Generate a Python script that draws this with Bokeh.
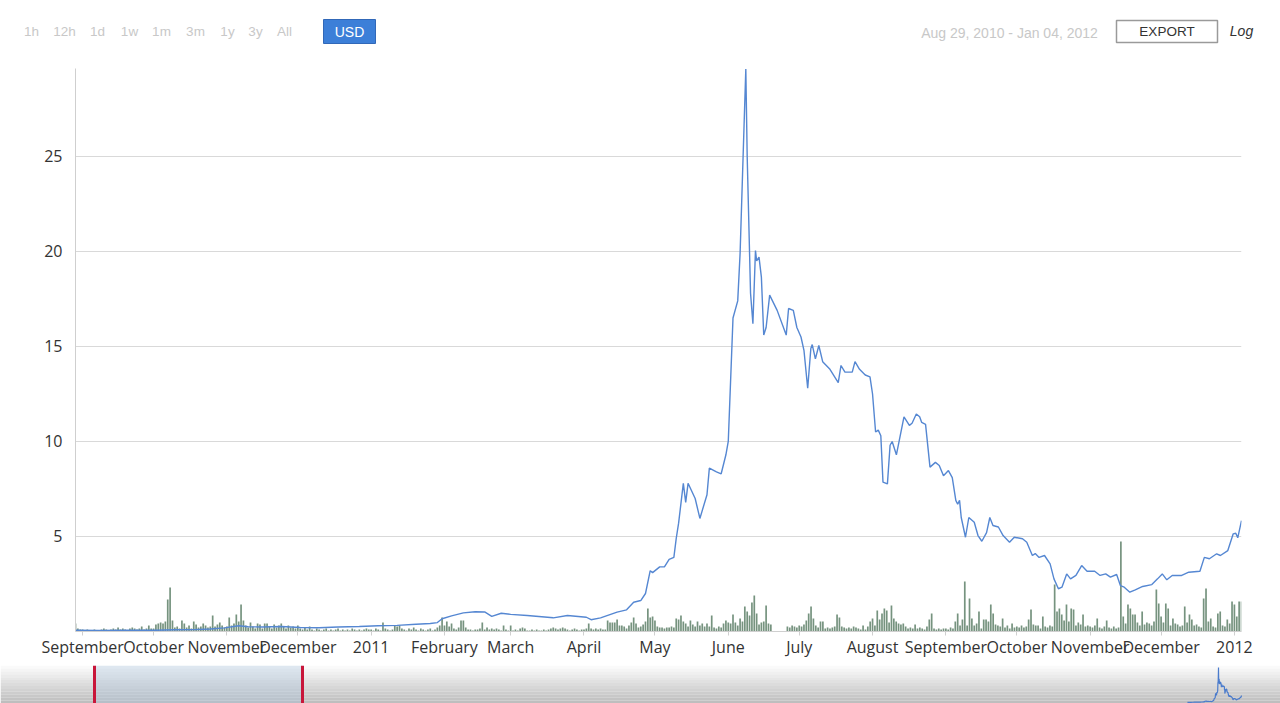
import pandas as pd
from bokeh.plotting import figure
from bokeh.models import Range1d, FixedTicker
from bokeh.layouts import column
from bokeh.core.properties import value
from bokeh.embed import file_html
from bokeh.resources import INLINE

# ---------------- data ----------------
price_time = [
    "2010-08-29", "2010-09-08", "2010-09-20", "2010-10-02", "2010-10-10", "2010-10-18", "2010-10-25", "2010-10-31",
    "2010-11-06", "2010-11-10", "2010-11-16", "2010-11-24", "2010-12-02", "2010-12-10", "2010-12-18", "2010-12-27",
    "2011-01-04", "2011-01-12", "2011-01-20", "2011-01-26", "2011-01-29", "2011-01-31", "2011-02-04", "2011-02-09",
    "2011-02-14", "2011-02-18", "2011-02-21", "2011-02-25", "2011-03-01", "2011-03-08", "2011-03-19", "2011-03-25",
    "2011-04-02", "2011-04-04", "2011-04-08", "2011-04-15", "2011-04-19", "2011-04-22", "2011-04-25", "2011-04-27",
    "2011-04-29", "2011-04-30", "2011-05-03", "2011-05-05", "2011-05-07", "2011-05-09", "2011-05-10", "2011-05-11",
    "2011-05-13", "2011-05-14", "2011-05-15", "2011-05-18", "2011-05-20", "2011-05-23", "2011-05-24", "2011-05-27",
    "2011-05-29", "2011-05-31", "2011-06-01", "2011-06-03", "2011-06-05", "2011-06-06", "2011-06-08T10:00",
    "2011-06-09", "2011-06-10T10:00", "2011-06-11T10:00", "2011-06-12T12:00", "2011-06-13", "2011-06-14", "2011-06-15",
    "2011-06-16", "2011-06-17", "2011-06-18T12:00", "2011-06-21T16:00", "2011-06-25T12:00", "2011-06-26T12:00",
    "2011-06-28T12:00", "2011-06-30", "2011-07-01T18:00", "2011-07-03", "2011-07-04T14:00", "2011-07-05T22:00",
    "2011-07-06T12:00", "2011-07-07T20:00", "2011-07-09T07:00", "2011-07-10T22:00", "2011-07-14", "2011-07-17T12:00",
    "2011-07-18T16:00", "2011-07-20T08:00", "2011-07-23T10:00", "2011-07-24T14:00", "2011-07-26T12:00",
    "2011-07-28T22:00", "2011-07-30T22:00", "2011-08-01", "2011-08-02T07:00", "2011-08-03T10:00", "2011-08-04T12:00",
    "2011-08-05T10:00", "2011-08-07T07:00", "2011-08-08T10:00", "2011-08-09T07:00", "2011-08-11T02:00",
    "2011-08-14T07:00", "2011-08-16T14:00", "2011-08-17T17:00", "2011-08-19T12:00", "2011-08-20T22:00",
    "2011-08-21T19:00", "2011-08-23T10:00", "2011-08-25T07:00", "2011-08-27T14:00", "2011-08-29T05:00", "2011-08-31",
    "2011-09-02T02:00", "2011-09-03T17:00", "2011-09-05T05:00", "2011-09-06", "2011-09-06T19:00", "2011-09-07T12:00",
    "2011-09-09T07:00", "2011-09-10T17:00", "2011-09-13", "2011-09-14T14:00", "2011-09-16T05:00", "2011-09-18T05:00",
    "2011-09-19T14:00", "2011-09-20T22:00", "2011-09-23T05:00", "2011-09-25T05:00", "2011-09-27T22:00",
    "2011-09-29T22:00", "2011-10-03T10:00", "2011-10-05T05:00", "2011-10-07T14:00", "2011-10-08T19:00",
    "2011-10-10T10:00", "2011-10-12T17:00", "2011-10-15T02:00", "2011-10-16T17:00", "2011-10-18T14:00",
    "2011-10-20T02:00", "2011-10-22T02:00", "2011-10-23T17:00", "2011-10-26", "2011-10-28T10:00", "2011-10-30T17:00",
    "2011-11-02T22:00", "2011-11-05T05:00", "2011-11-07T14:00", "2011-11-09T14:00", "2011-11-12T05:00",
    "2011-11-13T19:00", "2011-11-15T10:00", "2011-11-17T19:00", "2011-11-20T02:00", "2011-11-23T05:00",
    "2011-11-27T02:00", "2011-11-29T12:00", "2011-12-01T12:00", "2011-12-03T10:00", "2011-12-05T17:00",
    "2011-12-09T17:00", "2011-12-12T17:00", "2011-12-17T10:00", "2011-12-19T07:00", "2011-12-21T10:00",
    "2011-12-24T12:00", "2011-12-26T02:00", "2011-12-29T05:00", "2011-12-31T12:00", "2012-01-01T14:00",
    "2012-01-02T10:00", "2012-01-04",
]
price_usd = [
    0.064, 0.060, 0.062, 0.062, 0.095, 0.100, 0.130, 0.190,
    0.30, 0.25, 0.24, 0.26, 0.21, 0.20, 0.24, 0.26,
    0.30, 0.32, 0.38, 0.42, 0.47, 0.67, 0.82, 0.98,
    1.04, 1.03, 0.80, 0.96, 0.90, 0.84, 0.72, 0.84,
    0.75, 0.62, 0.72, 1.02, 1.14, 1.54, 1.63, 2.00,
    3.2, 3.1, 3.4, 3.4, 3.8, 3.9, 4.9, 5.7,
    7.8, 6.8, 7.8, 7.0, 5.95, 7.2, 8.6, 8.4,
    8.3, 9.3, 10.0, 16.5, 17.4, 19.9, 29.6,
    25.0, 17.8, 16.2, 20.05, 19.5, 19.7, 18.65,
    15.6, 16.0, 17.7, 16.9, 15.6, 17.0,
    16.9, 16.0, 15.5, 14.8, 12.8, 14.9,
    15.1, 14.35, 15.05, 14.2, 13.8, 13.1,
    14.0, 13.65, 13.65, 14.2, 13.8,
    13.5, 13.4, 12.5, 10.5, 10.6, 10.3,
    7.86, 7.77, 9.8, 10.0, 9.3,
    11.3, 10.85, 10.96, 11.45, 11.3,
    11.0, 10.9, 8.65, 8.9, 8.74, 8.2,
    8.47, 8.1, 6.9, 6.7, 6.9, 6.0,
    4.96, 6.0, 5.75, 5.05, 4.75, 5.2,
    6.0, 5.58, 5.5, 5.05, 4.7,
    4.96, 4.88, 4.7, 4.0, 4.1,
    3.9, 4.0, 3.56, 2.77, 2.25,
    2.33, 3.03, 2.77, 2.95, 3.47, 3.17,
    3.17, 2.95, 3.03, 2.86, 3.0,
    2.42, 2.33, 2.07, 2.19, 2.37,
    2.47, 2.77, 3.03, 2.72, 2.95,
    2.95, 3.12, 3.17, 3.9, 3.83,
    4.09, 4.0, 4.26, 5.14, 5.17,
    4.93, 5.84,
]

# daily traded volume (thousand BTC), one list per month
vol_2010_08 = [8, 3, 2]
vol_2010_09 = [2, 1, 2, 1, 1, 2, 1, 1, 2, 3, 2, 1, 2, 3, 2, 4, 2, 3, 2, 1, 3, 4, 3, 2, 3, 5, 2, 3, 6, 3]
vol_2010_10 = [3, 7, 8, 9, 8, 10, 32, 44, 11, 4, 5, 3, 11, 8, 4, 6, 3, 10, 7, 4, 5, 8, 6, 4, 5, 16, 5, 7, 9, 6, 4]
vol_2010_11 = [5, 14, 6, 8, 17, 10, 27, 11, 6, 4, 9, 5, 3, 8, 7, 3, 8, 8, 5, 3, 7, 4, 6, 8, 5, 3, 6, 4, 5, 3]
vol_2010_12 = [6, 3, 2, 4, 2, 5, 2, 1, 3, 2, 1, 2, 3, 1, 2, 1, 2, 3, 1, 2, 1, 2, 1, 3, 2, 1, 2, 1, 2, 3, 2]
vol_2011_01 = [2, 1, 3, 2, 1, 9, 3, 2, 1, 2, 6, 5, 6, 3, 2, 1, 3, 2, 4, 2, 1, 3, 2, 1, 2, 3, 1, 2, 4, 6, 14]
vol_2011_02 = [6, 10, 5, 8, 3, 2, 4, 11, 11, 4, 2, 2, 1, 2, 2, 3, 9, 2, 4, 2, 3, 2, 3, 2, 1, 6, 2, 1]
vol_2011_03 = [6, 1, 2, 1, 3, 4, 3, 1, 1, 2, 1, 2, 1, 1, 2, 1, 2, 3, 4, 3, 2, 3, 4, 3, 2, 1, 2, 3, 2, 1, 2]
vol_2011_04 = [2, 3, 8, 3, 2, 3, 2, 3, 2, 2, 11, 9, 9, 9, 12, 6, 6, 5, 3, 6, 9, 14, 8, 4, 5, 7, 10, 23, 14, 15]
vol_2011_05 = [11, 5, 4, 4, 3, 4, 4, 5, 4, 13, 12, 16, 10, 8, 5, 11, 7, 5, 10, 6, 8, 5, 8, 5, 16, 4, 3, 5, 4, 8, 11]
vol_2011_06 = [9, 8, 17, 9, 6, 13, 10, 25, 20, 16, 29, 36, 18, 7, 9, 10, 26, 8, 7, 0, 0, 0, 0, 0, 0, 5, 4, 6, 5, 4]
vol_2011_07 = [6, 5, 7, 11, 18, 25, 13, 6, 4, 10, 10, 3, 4, 3, 4, 5, 17, 14, 5, 4, 3, 4, 3, 5, 4, 3, 2, 6, 2, 5, 10]
vol_2011_08 = [13, 6, 21, 12, 18, 23, 21, 9, 26, 13, 10, 8, 7, 8, 5, 3, 4, 3, 7, 3, 4, 3, 2, 5, 12, 18, 3, 2, 3, 2, 3]
vol_2011_09 = [3, 2, 4, 3, 10, 18, 6, 12, 50, 6, 33, 13, 6, 8, 20, 3, 12, 12, 10, 27, 18, 7, 6, 5, 13, 4, 6, 3, 8, 4]
vol_2011_10 = [5, 4, 6, 4, 5, 12, 22, 7, 6, 6, 3, 15, 5, 4, 6, 5, 47, 20, 23, 17, 11, 27, 10, 23, 22, 6, 9, 7, 17, 5, 6]
vol_2011_11 = [5, 4, 6, 13, 4, 3, 5, 11, 4, 3, 5, 3, 4, 90, 15, 8, 27, 23, 17, 17, 9, 6, 20, 7, 9, 8, 6, 10, 42, 28]
vol_2011_12 = [15, 9, 28, 23, 6, 13, 8, 7, 5, 6, 25, 9, 17, 12, 6, 7, 5, 4, 33, 43, 10, 13, 5, 4, 18, 20, 6, 5, 12, 8, 30]
vol_2012_01 = [27, 15, 30, 30]

volume_months = [
    ("2010-08-29", vol_2010_08), ("2010-09-01", vol_2010_09), ("2010-10-01", vol_2010_10),
    ("2010-11-01", vol_2010_11), ("2010-12-01", vol_2010_12), ("2011-01-01", vol_2011_01),
    ("2011-02-01", vol_2011_02), ("2011-03-01", vol_2011_03), ("2011-04-01", vol_2011_04),
    ("2011-05-01", vol_2011_05), ("2011-06-01", vol_2011_06), ("2011-07-01", vol_2011_07),
    ("2011-08-01", vol_2011_08), ("2011-09-01", vol_2011_09), ("2011-10-01", vol_2011_10),
    ("2011-11-01", vol_2011_11), ("2011-12-01", vol_2011_12), ("2012-01-01", vol_2012_01),
]

month_ticks = ["2010-09-01", "2010-10-01", "2010-11-01", "2010-12-01", "2011-01-01", "2011-02-01",
               "2011-03-01", "2011-04-01", "2011-05-01", "2011-06-01", "2011-07-01", "2011-08-01",
               "2011-09-01", "2011-10-01", "2011-11-01", "2011-12-01", "2012-01-01"]
month_labels = ["September", "October", "November", "December", "2011", "February",
                "March", "April", "May", "June", "July", "August",
                "September", "October", "November", "December", "2012"]
price_ticks = [5, 10, 15, 20, 25]

period_buttons = ["1h", "12h", "1d", "1w", "1m", "3m", "1y", "3y", "All"]
currency_label = "USD"
range_text = "Aug 29, 2010 - Jan 04, 2012"
export_label = "EXPORT"
log_label = "Log"
view_start, view_end = "2010-08-29", "2012-01-04"

# ---------------- helpers ----------------
def ms(s):
    return pd.Timestamp(s).value // 10**6

DAY = 86400000.0
W = 1280

price_x = pd.to_datetime(price_time, format="ISO8601")
vol_x, vol_y = [], []
for start, vals in volume_months:
    ds = pd.date_range(start, periods=len(vals), freq="D")
    for d, v in zip(ds, vals):
        if v > 0:
            vol_x.append(d)
            vol_y.append(v)

FONT_UI = value("Liberation Sans")

# ---------------- top bar ----------------
top = figure(width=W, height=60, x_range=Range1d(0, W), y_range=Range1d(60, 0),
             x_axis_type=None, y_axis_type=None, toolbar_location=None,
             output_backend="svg", min_border=0, frame_align=False)
top.outline_line_color = None
btn_x = [31, 64, 97, 129, 161, 195, 227, 255, 284]
top.text(x=btn_x, y=[31] * len(btn_x), text=period_buttons, text_font=FONT_UI,
         text_font_size="13.5px", text_color="#c8c8c8", text_align="center", text_baseline="middle")
top.quad(left=[323], right=[375], top=[19], bottom=[43], fill_color="#3c7fd8", line_color="#3168b8")
top.text(x=[349], y=[31.5], text=[currency_label], text_font=FONT_UI,
         text_font_size="14px", text_color="white", text_align="center", text_baseline="middle")
top.text(x=[1009], y=[32], text=[range_text], text_font=FONT_UI,
         text_font_size="14px", text_color="#c8c8c8", text_align="center", text_baseline="middle")
top.quad(left=[1116], right=[1217], top=[20], bottom=[42], fill_color="white", line_color="#9a9a9a", line_width=1.5)
top.text(x=[1166.5], y=[31], text=[export_label], text_font=FONT_UI,
         text_font_size="13.5px", text_color="#333333", text_align="center", text_baseline="middle")
top.text(x=[1241], y=[30.5], text=[log_label], text_font=FONT_UI, text_font_style="italic",
         text_font_size="14px", text_color="#333333", text_align="center", text_baseline="middle")

# ---------------- main chart ----------------
main = figure(width=W, height=605, x_axis_type="datetime",
              x_range=Range1d(ms(view_start), ms(view_end)), y_range=Range1d(0, 29.63),
              toolbar_location=None, output_backend="svg", frame_align=False,
              min_border_left=75, min_border_right=39, min_border_top=8, min_border_bottom=34)
main.outline_line_color = None
main.extra_y_ranges = {"vol": Range1d(0, 563)}

main.vbar(x=vol_x, top=vol_y, width=0.72 * DAY, y_range_name="vol",
          fill_color="#76937f", line_color=None)
main.line(price_x, price_usd, line_color="#5587d2", line_width=1.4)

yt = FixedTicker(ticks=price_ticks)
main.yaxis.ticker = yt
main.ygrid.ticker = yt
main.yaxis.major_tick_out = 0
main.yaxis.major_tick_in = 0
main.yaxis.minor_tick_line_color = None
main.yaxis.axis_line_color = "#cfcfcf"
main.yaxis.major_label_standoff = 13
main.yaxis.major_label_text_font = "Open Sans"
main.yaxis.major_label_text_font_size = "16px"
main.yaxis.major_label_text_color = "#333333"

tick_ms = [ms(t) for t in month_ticks]
main.xaxis.ticker = FixedTicker(ticks=tick_ms)
main.xaxis.major_label_overrides = {t: l for t, l in zip(tick_ms, month_labels)}
main.xaxis.major_tick_out = 4
main.xaxis.major_tick_in = 0
main.xaxis.major_tick_line_color = "#cfcfcf"
main.xaxis.minor_tick_line_color = None
main.xaxis.axis_line_color = "#cfcfcf"
main.xaxis.major_label_standoff = 0
main.xaxis.major_label_text_font = "Open Sans"
main.xaxis.major_label_text_font_size = "16px"
main.xaxis.major_label_text_color = "#333333"

main.xgrid.grid_line_color = None
main.ygrid.grid_line_color = "#d9d9d9"

# ---------------- navigator ----------------
NH = 38
nav = figure(width=W, height=NH, x_range=Range1d(0, W), y_range=Range1d(NH, 0),
             x_axis_type=None, y_axis_type=None, toolbar_location=None,
             output_backend="svg", min_border=0, frame_align=False)
nav.outline_line_color = None
band_colors = ["#fafafa", "#f5f5f5", "#f0f0f0", "#ebebeb", "#e6e6e6", "#e1e1e1", "#dcdcdc",
               "#d7d7d7", "#d2d2d2", "#cdcdcd", "#c8c8c8", "#c3c3c3", "#bebebe"]
nb = len(band_colors)
bh = NH / nb
nav.quad(left=[0] * nb, right=[W] * nb, top=[i * bh for i in range(nb)],
         bottom=[(i + 1) * bh for i in range(nb)], fill_color=band_colors, line_color=None)
nav.quad(left=[94], right=[302], top=[0], bottom=[NH], fill_color="#a9c2dc", fill_alpha=0.35, line_color=None)
nav.segment(x0=[94, 302], y0=[0, 0], x1=[94, 302], y1=[NH, NH], line_color="#c8163a", line_width=3)
end_ms = ms(view_end)
nav.extra_x_ranges = {"t": Range1d(end_ms - 11313 * DAY, end_ms + 355.5 * DAY)}
nav.extra_y_ranges = {"p": Range1d(-0.96, 31.3)}
nav.line(price_x, price_usd, x_range_name="t", y_range_name="p", line_color="#4a7bcc", line_width=1.2)

layout = column(top, main, nav, spacing=0)
open("out.html", "w").write(file_html(layout, INLINE))
